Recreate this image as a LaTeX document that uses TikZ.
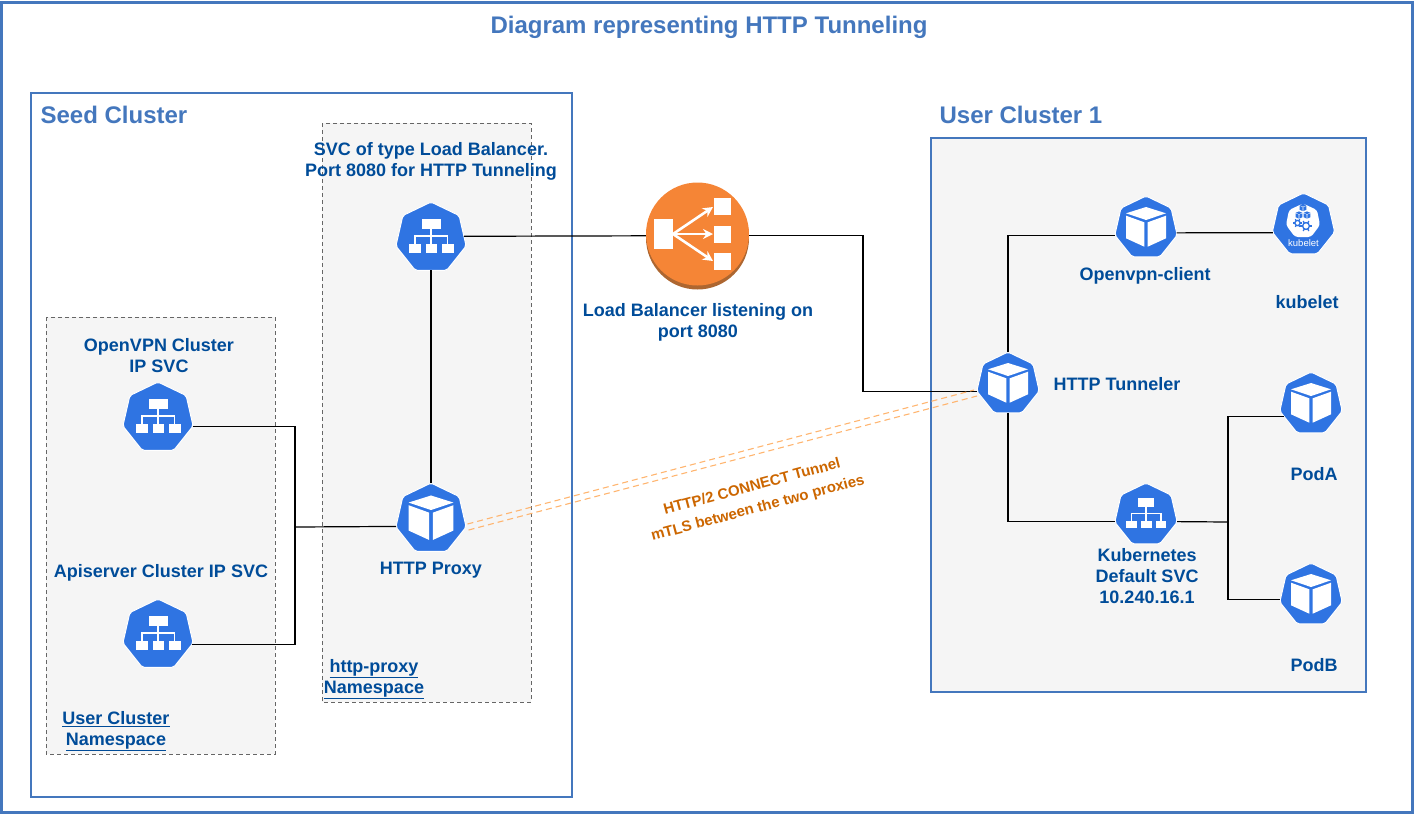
\documentclass[tikz,border=0pt]{standalone}
\usepackage{fontspec}
\setmainfont{Liberation Sans}
\usetikzlibrary{shapes.geometric,arrows.meta}
\definecolor{frameblue}{HTML}{4477BD}
\definecolor{k8sblue}{HTML}{2F74E2}
\definecolor{labelblue}{HTML}{004C99}
\definecolor{panelgray}{HTML}{F5F5F5}
\definecolor{tunnelorange}{HTML}{FFB570}
\definecolor{tunneltext}{HTML}{CC6600}
\definecolor{lborange}{HTML}{F58536}
\definecolor{lbshadow}{HTML}{AD6630}
\tikzset{
  hepta/.style={regular polygon, regular polygon sides=7, minimum size=#1,
    inner sep=0pt, outer sep=0pt, fill=k8sblue, draw=white, line width=1pt, rounded corners=2pt},
  link/.style={draw=black, line width=1.2pt},
  tunnel/.style={draw=tunnelorange, line width=1.1pt, dash pattern=on 6pt off 4pt},
  label/.style={font=\fontsize{18}{21}\selectfont\bfseries, text=labelblue, align=center, inner sep=0pt},
  heading/.style={font=\fontsize{24}{27}\selectfont\bfseries, text=frameblue, inner sep=0pt},
  nsbox/.style={draw=black!60, fill=panelgray, line width=1pt, dash pattern=on 4pt off 3pt},
  svcicon/.pic={
    \fill[white] (-9.5,-18.7) rectangle (9.5,-9.3);
    \fill[white] (-22,6.3) rectangle (-10.3,14.7);
    \fill[white] (-5.5,6.3) rectangle (6.3,14.7);
    \fill[white] (11,6.3) rectangle (22.7,14.7);
    \draw[white, line width=1.2pt] (0,-9.3) -- (0,6.3);
    \draw[white, line width=1.2pt] (-16,6.3) -- (-16,-2) -- (16.8,-2) -- (16.8,6.3);
  },
  podicon/.pic={
    \fill[white] (-20,-14.7) -- (0,-21) -- (20,-14.7) -- (0,-8) -- cycle;
    \fill[white] (-20,-12.3) -- (-1.7,-5.7) -- (-1.7,18.7) -- (-20,10.3) -- cycle;
    \fill[white] (20,-12.3) -- (1.7,-5.7) -- (1.7,18.7) -- (20,10.3) -- cycle;
  },
  smallcube/.pic={
    \fill[k8sblue] (-3.4,-2.2) -- (0,-3.6) -- (3.4,-2.2) -- (0,-.9) -- cycle;
    \fill[k8sblue] (-3.4,-1.6) -- (-.3,-.4) -- (-.3,3.6) -- (-3.4,2.2) -- cycle;
    \fill[k8sblue] (3.4,-1.6) -- (.3,-.4) -- (.3,3.6) -- (3.4,2.2) -- cycle;
  },
  gearicon/.pic={
    \draw[k8sblue, line width=1.3pt] (0,0) circle (2.6);
    \foreach \a in {0,60,...,300} {
      \draw[k8sblue, line width=1.3pt] (\a:2.6) -- (\a:4.4);
    }
  },
}
\begin{document}
\begin{tikzpicture}[x=1pt,y=-1pt]
  \useasboundingbox (0,0) rectangle (1415,815);

  % Frame and title
  \draw[frameblue, line width=3pt] (1.5,2) rectangle (1412,812);
  \node[heading] (title) at (709,27) {Diagram representing HTTP Tunneling};

  % Clusters
  \draw[frameblue, line width=1.1pt] (31,93) rectangle (572,797);
  \draw[frameblue, line width=1.1pt, fill=panelgray] (931,138) rectangle (1366,692);
  \node[heading] (seedname) at (114,115) {Seed Cluster};
  \node[heading] (username) at (1021,115) {User Cluster 1};

  % Namespaces
  \draw[nsbox] (322,123) rectangle (531,702);
  \draw[nsbox] (46,317) rectangle (275,754);

  % Load balancer
  \fill[lbshadow] (697.5,238) circle (51.5);
  \node[circle, fill=lborange, minimum size=103pt, inner sep=0pt] (lb) at (697.5,234) {};
  \fill[white] (654,219) rectangle (673,249);
  \fill[white] (714,198) rectangle (731,215);
  \fill[white] (714,226) rectangle (731,243);
  \fill[white] (714,253) rectangle (731,270);
  \draw[white, line width=2.6pt, -{Stealth[length=10pt,width=10pt]}] (673,234) -- (713,207);
  \draw[white, line width=2.6pt, -{Stealth[length=10pt,width=10pt]}] (673,234) -- (713,234);
  \draw[white, line width=2.6pt, -{Stealth[length=10pt,width=10pt]}] (673,234) -- (713,261);

  % Seed side services
  \node[hepta=72pt] (svclb) at (431,238) {};
  \pic at (svclb) {svcicon};
  \node[hepta=72pt] (svcvpn) at (158,418) {};
  \pic at (svcvpn) {svcicon};
  \node[hepta=72pt] (svcapi) at (158,635) {};
  \pic at (svcapi) {svcicon};
  \node[hepta=72pt] (proxy) at (431,519) {};
  \pic[scale=1.12] at (proxy) {podicon};

  % User side pods
  \node[hepta=64pt] (client) at (1146,228) {};
  \pic at (client) {podicon};
  \node[hepta=64pt] (tunneler) at (1008,384) {};
  \pic at (tunneler) {podicon};
  \node[hepta=64pt] (svcdef) at (1146,515) {};
  \pic[scale=.89] at (svcdef) {svcicon};
  \node[hepta=64pt] (poda) at (1311,404) {};
  \pic at (poda) {podicon};
  \node[hepta=64pt] (podb) at (1311,595) {};
  \pic at (podb) {podicon};

  % Kubelet
  \node[hepta=64pt] (kubelet) at (1303.5,225) {};
  \fill[white, rounded corners=3pt] (1303,203.5) -- (1317,210) -- (1320,225) -- (1311,237) -- (1295,237) -- (1286,225) -- (1289,210) -- cycle;
  \pic at (1303,207.5) {smallcube};
  \pic at (1299,215) {smallcube};
  \pic at (1307,215) {smallcube};
  \pic at (1297.5,223) {gearicon};
  \pic[scale=1.3] at (1306,226) {gearicon};
  \node[font=\fontsize{9.5}{10}\selectfont, text=white, inner sep=0pt] (kubelettag) at (1303.5,243) {kubelet};

  % Junctions
  \coordinate (seedjoin) at (295,527);
  \coordinate (lbbend) at (863,314);
  \coordinate (defjoin) at (1228,522);

  % Connectors
  \draw[link] (svclb.3) -- (lb.182);
  \draw[link] (svclb.south) -- (proxy.north);
  \draw[link] (svcvpn.-13) -| (seedjoin);
  \draw[link] (svcapi.-16) -| (seedjoin);
  \draw[link] (seedjoin) -- (proxy.-168);
  \draw[link] (lb.-2) -| (lbbend) |- (tunneler.194);
  \draw[link] (tunneler.north) |- (client.194);
  \draw[link] (client.-9) -- (kubelet.194);
  \draw[link] (tunneler.south) |- (svcdef.192);
  \draw[link] (svcdef.-12) -- (defjoin);
  \draw[link] (defjoin) |- (poda.204);
  \draw[link] (defjoin) |- (podb.189);

  % Tunnel
  \draw[tunnel] (467.5,524) -- (974,390);
  \draw[tunnel] (468.6,530) -- (977,396);
  \node[font=\fontsize{15}{22}\selectfont\bfseries, text=tunneltext, align=center, rotate=15, inner sep=0pt] (tunnellabel) at (755,498) {HTTP/2 CONNECT Tunnel\\mTLS between the two proxies};

  % Labels
  \node[label] (lbllb) at (431,161) {SVC of type Load Balancer.\\Port 8080 for HTTP Tunneling};
  \node[label] (lblvpn) at (159,356) {OpenVPN Cluster\\IP SVC};
  \node[label] (lblapi) at (161,573) {Apiserver Cluster IP SVC};
  \node[label] (lblproxy) at (431,570) {HTTP Proxy};
  \node[label] (lblns) at (374,679) {\underline{http-proxy}\\\underline{Namespace}};
  \node[label] (lblusr) at (116,731) {\underline{User Cluster}\\\underline{Namespace}};
  \node[label] (lbllistening) at (698,322) {Load Balancer listening on\\port 8080};
  \node[label] (lblclient) at (1145,276) {Openvpn-client};
  \node[label] (lblkubelet) at (1307,302) {kubelet};
  \node[label] (lbltunneler) at (1117,384) {HTTP Tunneler};
  \node[label] (lblpoda) at (1314,474) {PodA};
  \node[label] (lblpodb) at (1314,665) {PodB};
  \node[label] (lbldef) at (1147,576) {Kubernetes\\Default SVC\\10.240.16.1};
\end{tikzpicture}
\end{document}
